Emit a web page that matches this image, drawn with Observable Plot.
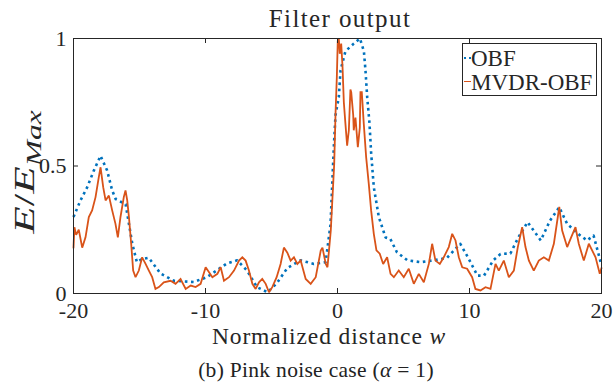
<!DOCTYPE html>
<html>
<head>
<meta charset="utf-8">
<script src="https://cdn.jsdelivr.net/npm/d3@7"></script>
<script src="https://cdn.jsdelivr.net/npm/@observablehq/plot@0.6"></script>
<style>
  html, body { margin: 0; padding: 0; background: #fff; }
  #wrap { position: relative; width: 613px; height: 388px; overflow: hidden; font-family: "Liberation Serif", serif; color: #262626; }
  .abs { position: absolute; white-space: nowrap; line-height: 1; }
</style>
</head>
<body>
<div id="wrap"></div>
<script>
// ---- data ----
const xTicks = [-20, -10, 0, 10, 20];
const yTicks = [0, 0.5, 1];
const yTickLabels = ["0", "0.5", "1"];
const seriesNames = ["OBF", "MVDR-OBF"];

const obfW = [-20, -19.47, -18.96, -18.46, -17.95, -17.45, -17.07, -16.8, -16.05, -15.55, -15.2, -14.8, -14.3, -13.4, -12.4, -10.9, -9.9, -8.4, -7.6, -6.85, -6.1, -5.3, -4.6, -3.8, -2.8, -1.8, -0.9, -0.53, -0.28, -0.15, 0.1, 0.23, 0.6, 1.23, 1.7, 2.0, 2.12, 2.25, 2.42, 2.55, 2.75, 3.13, 3.64, 4.0, 4.5, 5.3, 6.3, 7.3, 8.3, 9.3, 9.9, 10.6, 11.1, 11.8, 12.35, 13.1, 13.7, 14.4, 15.4, 16.1, 16.8, 17.4, 18.2, 18.9, 19.4, 19.9, 20];
const obfV = [0.30, 0.365, 0.417, 0.482, 0.54, 0.482, 0.404, 0.37, 0.35, 0.196, 0.123, 0.135, 0.14, 0.078, 0.05, 0.045, 0.064, 0.117, 0.13, 0.09, 0.025, 0.005, 0.04, 0.10, 0.13, 0.116, 0.123, 0.27, 0.574, 0.70, 0.77, 0.875, 0.95, 0.98, 1.0, 0.95, 0.875, 0.77, 0.67, 0.55, 0.417, 0.30, 0.22, 0.214, 0.162, 0.13, 0.123, 0.13, 0.14, 0.195, 0.14, 0.07, 0.07, 0.13, 0.155, 0.157, 0.22, 0.28, 0.208, 0.286, 0.338, 0.273, 0.235, 0.208, 0.227, 0.13, 0.11];

const mvdrW = [-20, -19.93, -19.8, -19.6, -19.34, -19.09, -18.84, -18.59, -18.33, -18.08, -17.95, -17.75, -17.57, -17.32, -17.07, -16.82, -16.64, -16.44, -16.19, -16.06, -15.93, -15.8, -15.63, -15.48, -15.3, -15.05, -14.8, -14.54, -14.29, -14.04, -13.79, -13.53, -13.16, -12.65, -12.27, -11.89, -11.5, -11.12, -10.75, -10.37, -9.99, -9.73, -9.48, -9.1, -8.85, -8.6, -8.22, -7.84, -7.46, -7.21, -6.96, -6.71, -6.45, -6.2, -5.95, -5.7, -5.44, -5.19, -4.94, -4.61, -4.31, -4.06, -3.8, -3.55, -3.3, -3.04, -2.79, -2.41, -2.03, -1.65, -1.27, -1.14, -0.89, -0.76, -0.51, -0.25, -0.15, -0.05, 0.02, 0.1, 0.17, 0.28, 0.38, 0.48, 0.6, 0.73, 0.86, 0.98, 1.04, 1.19, 1.23, 1.36, 1.54, 1.69, 1.74, 1.84, 1.99, 2.17, 2.37, 2.55, 2.75, 2.95, 3.2, 3.46, 3.76, 4.02, 4.27, 4.64, 5.02, 5.4, 5.78, 6.16, 6.54, 6.92, 7.17, 7.42, 7.75, 8.05, 8.43, 8.69, 8.94, 9.19, 9.45, 9.82, 10.2, 10.45, 10.83, 11.21, 11.59, 11.97, 12.22, 12.6, 12.98, 13.36, 13.66, 13.99, 14.24, 14.5, 14.87, 15.25, 15.63, 16.01, 16.39, 16.69, 16.8, 17.02, 17.4, 17.7, 18.03, 18.28, 18.66, 19.04, 19.29, 19.55, 19.87, 20];
const mvdrV = [0.18, 0.26, 0.23, 0.25, 0.18, 0.22, 0.30, 0.326, 0.378, 0.457, 0.495, 0.417, 0.365, 0.384, 0.326, 0.273, 0.22, 0.30, 0.378, 0.404, 0.365, 0.30, 0.195, 0.09, 0.064, 0.09, 0.142, 0.116, 0.09, 0.064, 0.018, 0.025, 0.044, 0.05, 0.038, 0.057, 0.018, 0.031, 0.025, 0.038, 0.103, 0.083, 0.064, 0.077, 0.103, 0.05, 0.064, 0.09, 0.129, 0.142, 0.129, 0.09, 0.038, 0.018, 0.044, 0.057, 0.038, 0.005, 0.025, 0.064, 0.116, 0.18, 0.16, 0.129, 0.142, 0.116, 0.129, 0.057, 0.038, 0.064, 0.168, 0.18, 0.116, 0.103, 0.246, 0.508, 0.705, 0.85, 0.99, 1.0, 0.94, 0.98, 0.89, 0.75, 0.666, 0.58, 0.64, 0.80, 0.79, 0.70, 0.64, 0.69, 0.574, 0.65, 0.79, 0.79, 0.666, 0.535, 0.43, 0.325, 0.234, 0.169, 0.156, 0.116, 0.142, 0.077, 0.064, 0.09, 0.064, 0.097, 0.038, 0.077, 0.044, 0.116, 0.195, 0.129, 0.116, 0.142, 0.182, 0.234, 0.208, 0.142, 0.103, 0.097, 0.064, 0.018, 0.012, 0.025, 0.018, 0.116, 0.09, 0.129, 0.064, 0.09, 0.182, 0.26, 0.182, 0.129, 0.09, 0.129, 0.142, 0.129, 0.195, 0.30, 0.34, 0.247, 0.182, 0.22, 0.26, 0.195, 0.129, 0.195, 0.169, 0.142, 0.077, 0.10];

// ---- build tables ----
const obf = obfW.map((w, i) => ({w, v: obfV[i]}));
const mvdr = mvdrW.map((w, i) => ({w, v: mvdrV[i]}));

const BLUE = "#0072BD", ORANGE = "#D95319", AX = "#262626";
const W = 613, H = 388, mL = 73, mR = 12, mT = 38, mB = 95;
const xDom = [-20, 20], yDom = [0, 1];
const tickPxX = 5 / ((W - mL - mR) / (xDom[1] - xDom[0]));
const tickPxY = 5 / (H - mT - mB);
const innerX = xTicks.slice(1, -1), innerY = yTicks.slice(1, -1);

const chart = Plot.plot({
  width: W, height: H,
  marginLeft: mL, marginRight: mR, marginTop: mT, marginBottom: mB,
  x: {domain: xDom, ticks: xTicks, tickFormat: d => String(d), tickSize: 0, tickPadding: 9, label: null},
  y: {domain: yDom, ticks: yTicks, tickFormat: d => yTickLabels[yTicks.indexOf(d)], tickSize: 0, tickPadding: 7, label: null},
  style: {fontFamily: "Liberation Serif", fontSize: "22px", color: AX, background: "white", overflow: "visible"},
  marks: [
    Plot.line(obf, {x: "w", y: "v", stroke: BLUE, strokeWidth: 2.6, strokeDasharray: "2.6 3.6", strokeLinecap: "butt"}),
    Plot.line(mvdr, {x: "w", y: "v", stroke: ORANGE, strokeWidth: 1.8, strokeLinejoin: "miter", strokeMiterlimit: 2}),
    Plot.ruleX(innerX, {y1: yDom[0], y2: yDom[0] + tickPxY, stroke: AX}),
    Plot.ruleX(innerX, {y1: yDom[1] - tickPxY, y2: yDom[1], stroke: AX}),
    Plot.ruleY(innerY, {x1: xDom[0], x2: xDom[0] + tickPxX, stroke: AX}),
    Plot.ruleY(innerY, {x1: xDom[1] - tickPxX, x2: xDom[1], stroke: AX}),
    Plot.frame({stroke: AX, strokeWidth: 1})
  ]
});
chart.style.position = "absolute";
chart.style.left = "0px";
chart.style.top = "0px";

const wrap = document.getElementById("wrap");
wrap.appendChild(chart);

function addText(html, css) {
  const d = document.createElement("div");
  d.className = "abs";
  d.innerHTML = html;
  Object.assign(d.style, css);
  wrap.appendChild(d);
  return d;
}

// title
addText("Filter output", {left: "340px", top: "18px", transform: "translate(-50%,-50%)", fontSize: "25px", letterSpacing: "1.4px"});
// x label
addText('Normalized distance <i>w</i>', {left: "329px", top: "337px", transform: "translate(-50%,-50%)", fontSize: "23.5px", letterSpacing: "0.9px"});
// y label
addText('<i>E</i>/<i>E</i><sub style="font-size:0.7em;vertical-align:-0.3em"><i>Max</i></sub>',
  {left: "27px", top: "172px", transform: "translate(-50%,-50%) rotate(-90deg) scaleX(1.5)", fontSize: "30px"});
// caption
addText('(b) Pink noise case (<i>α</i>&nbsp;=&nbsp;1)', {left: "316px", top: "371px", transform: "translate(-50%,-50%)", fontSize: "21.5px", letterSpacing: "0.3px", color: "#222"});

// legend
const leg = document.createElement("div");
Object.assign(leg.style, {position: "absolute", left: "462px", top: "43px", width: "135px", height: "53px",
  border: "1px solid " + AX, background: "white", boxSizing: "border-box"});
wrap.appendChild(leg);
const legItems = [
  {name: seriesNames[0], color: BLUE, dash: true, top: 14},
  {name: seriesNames[1], color: ORANGE, dash: false, top: 38}
];
for (const it of legItems) {
  const s = document.createElement("div");
  Object.assign(s.style, {position: "absolute", left: "1px", top: (it.top - 1) + "px", width: "7px", height: "0px",
    borderTop: (it.dash ? "2.5px dotted " : "1.6px solid ") + it.color});
  leg.appendChild(s);
  const t = document.createElement("div");
  Object.assign(t.style, {position: "absolute", left: "8px", top: it.top + "px", transform: "translateY(-50%)",
    fontSize: "23px", lineHeight: "1", whiteSpace: "nowrap", color: AX});
  t.textContent = it.name;
  leg.appendChild(t);
}
</script>
</body>
</html>
